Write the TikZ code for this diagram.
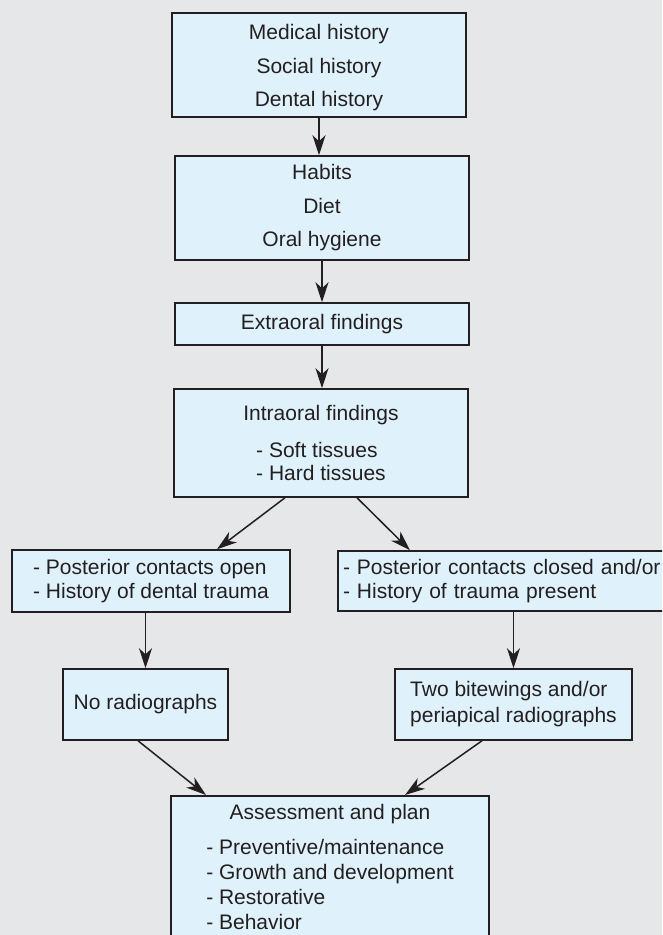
\documentclass[tikz,border=0pt]{standalone}
\usepackage{fontspec}
\setmainfont{Liberation Sans}
\usetikzlibrary{arrows.meta}
\definecolor{bgc}{HTML}{E6E7E9}
\definecolor{boxc}{HTML}{DFF1FA}
\definecolor{inkc}{HTML}{231F20}

\begin{document}
\begin{tikzpicture}[x=1pt,y=-1pt,
  box/.style={draw=inkc, line width=1.5pt, fill=boxc, text=inkc,
    inner sep=0pt, align=center, font=\fontsize{21}{33.5}\selectfont},
  flow/.style={draw=inkc, line width=1.5pt,
    -{Stealth[length=20pt,width=13pt,inset=6pt]}}]

% page and background
\useasboundingbox (0,0) rectangle (662,935);
\clip (0,0) rectangle (662,935);
\fill[bgc] (0,0) rectangle (662,935);

% history and habits
\node[box, minimum width=294pt, minimum height=104pt] (hist) at (319,65)
  {\rule{0pt}{21pt}Medical history\\Social history\\Dental history};
\node[box, minimum width=294pt, minimum height=104pt] (habit) at (322,208)
  {Habits\\Diet\\Oral hygiene};

% examination
\node[box, minimum width=294pt, minimum height=42pt] (extra) at (322,324)
  {Extraoral findings};
\node[box, minimum width=294pt, minimum height=108pt,
      font=\fontsize{21}{23}\selectfont] (intra) at (321,443)
  {\rule{0pt}{21pt}Intraoral findings\\[14pt]\begin{tabular}[t]{@{}l@{}}- Soft tissues\\- Hard tissues\end{tabular}};

% branches
\node[box, align=left, minimum width=278pt, minimum height=62pt,
      font=\fontsize{21}{24.5}\selectfont] (open) at (151,581)
  {- Posterior contacts open\\- History of dental trauma};
\node[box, align=left, text width=342pt, inner xsep=5pt, minimum height=60pt,
      font=\fontsize{21}{24.5}\selectfont] (closed) at (514,581)
  {- Posterior contacts closed and/or\\- History of trauma present};

% radiographs
\node[box, minimum width=165pt, minimum height=71pt] (norad) at (145.5,704.5)
  {No radiographs};
\node[box, align=left, minimum width=237pt, minimum height=71pt,
      font=\fontsize{21}{26}\selectfont] (bite) at (513.5,704.5)
  {Two bitewings and/or\\periapical radiographs};

% assessment
\node[box, anchor=north, minimum width=318pt, inner ysep=9pt,
      font=\fontsize{21}{25}\selectfont] (plan) at (330,795)
  {Assessment and plan\\[10pt]\begin{tabular}[t]{@{}l@{}}- Preventive/maintenance\\- Growth and development\\- Restorative\\- Behavior\end{tabular}};

% connectors
\draw[flow] (hist.south) -- (hist.south |- habit.north);
\draw[flow] (habit.south) -- (extra.north);
\draw[flow] (extra.south) -- (extra.south |- intra.north);
\draw[flow] ([xshift=-36pt]intra.south) -- ([xshift=66pt]open.north);
\draw[flow] ([xshift=36pt]intra.south) -- ([xshift=-104pt]closed.north);
\draw[flow] (norad.north |- open.south) -- (norad.north);
\draw[flow] (bite.north |- closed.south) -- (bite.north);
\draw[flow] ([xshift=-7.5pt]norad.south) -- ([xshift=-124pt]plan.north);
\draw[flow] ([xshift=-31.5pt]bite.south) -- ([xshift=75pt]plan.north);
\end{tikzpicture}
\end{document}
